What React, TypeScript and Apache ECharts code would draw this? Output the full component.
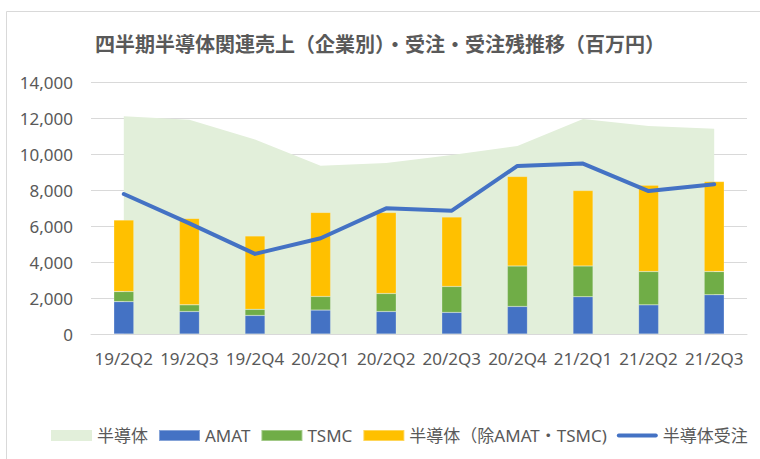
import React, { useEffect, useRef } from "react";
import * as echarts from "echarts";

const categories = ["19/2Q2", "19/2Q3", "19/2Q4", "20/2Q1", "20/2Q2", "20/2Q3", "20/2Q4", "21/2Q1", "21/2Q2", "21/2Q3"];
const semiTotal = [12100, 11900, 10800, 9350, 9500, 9950, 10450, 11950, 11550, 11400];
const amat = [1800, 1250, 1030, 1330, 1250, 1200, 1530, 2070, 1620, 2180];
const tsmc = [560, 370, 340, 755, 1000, 1440, 2250, 1710, 1850, 1290];
const others = [3970, 4800, 4080, 4670, 4500, 3860, 4970, 4190, 4800, 5000];
const orders = [7780, 6150, 4450, 5320, 6980, 6850, 9340, 9470, 7940, 8320];

const FONT = "'Noto Sans', 'Noto Sans CJK JP', sans-serif";
const GRAY = "#595959";
const LINE_ICON = "path://M2,0h37a2,2 0 0 1 0,4h-37a2,2 0 0 1 0,-4z";

export default function App() {
  const ref = useRef<HTMLDivElement>(null);
  useEffect(() => {
    if (!ref.current) return;
    const chart = echarts.init(ref.current, undefined, { renderer: "svg" });
    chart.setOption({
      animation: false,
      backgroundColor: "#ffffff",
      title: {
        text: "四半期半導体関連売上（企業別）・受注・受注残推移（百万円）",
        left: "center",
        top: 28,
        textStyle: { fontFamily: "'Noto Sans CJK JP', sans-serif", fontSize: 20, fontWeight: "bold", color: GRAY },
      },
      graphic: [
        {
          type: "rect",
          shape: { x: 6.5, y: 11.5, width: 800, height: 500 },
          style: { fill: "none", stroke: "#d9d9d9", lineWidth: 1 },
          silent: true,
        },
      ],
      grid: { left: 91, right: 13, top: 82, bottom: 125 },
      legend: {
        left: 46,
        top: 422,
        itemWidth: 41,
        itemHeight: 11,
        itemGap: 10,
        symbolKeepAspect: true,
        textStyle: { fontFamily: FONT, fontSize: 17, color: GRAY },
        data: [
          { name: "半導体", icon: "rect", itemStyle: { color: "#e2efda" } },
          { name: "AMAT", icon: "rect" },
          { name: "TSMC", icon: "rect" },
          { name: "半導体（除AMAT・TSMC)", icon: "rect" },
          { name: "半導体受注", icon: LINE_ICON },
        ],
      },
      xAxis: {
        type: "category",
        data: categories,
        boundaryGap: true,
        axisLine: { lineStyle: { color: "#d9d9d9", width: 1 } },
        axisTick: { show: false },
        axisLabel: { fontFamily: FONT, fontSize: 17, color: GRAY, margin: 16, interval: 0 },
      },
      yAxis: {
        type: "value",
        min: 0,
        max: 14000,
        interval: 2000,
        axisLine: { show: false },
        axisTick: { show: false },
        splitLine: { lineStyle: { color: "#d9d9d9", width: 1 } },
        axisLabel: {
          fontFamily: FONT,
          fontSize: 17,
          color: GRAY,
          margin: 18,
          formatter: (v: number) => v.toLocaleString("en-US"),
        },
      },
      series: [
        {
          name: "半導体",
          type: "line",
          data: semiTotal,
          symbol: "none",
          lineStyle: { width: 0 },
          itemStyle: { color: "#e2efda" },
          areaStyle: { color: "#e2efda", opacity: 1 },
          z: 1,
        },
        {
          name: "AMAT",
          type: "bar",
          stack: "s",
          data: amat,
          barWidth: 20,
          itemStyle: { color: "#4472c4", borderColor: "rgba(255,255,255,0.35)", borderWidth: 0.5 },
          z: 2,
        },
        {
          name: "TSMC",
          type: "bar",
          stack: "s",
          data: tsmc,
          barWidth: 20,
          itemStyle: { color: "#70ad47", borderColor: "rgba(255,255,255,0.35)", borderWidth: 0.5 },
          z: 2,
        },
        {
          name: "半導体（除AMAT・TSMC)",
          type: "bar",
          stack: "s",
          data: others,
          barWidth: 20,
          itemStyle: { color: "#ffc000", borderColor: "rgba(255,255,255,0.35)", borderWidth: 0.5 },
          z: 2,
        },
        {
          name: "半導体受注",
          type: "line",
          data: orders,
          symbol: "none",
          lineStyle: { color: "#4472c4", width: 4, cap: "round", join: "round" },
          itemStyle: { color: "#4472c4" },
          z: 3,
        },
      ],
    });
    return () => chart.dispose();
  }, []);
  return <div ref={ref} style={{ position: "absolute", left: 0, top: 0, width: 760, height: 459 }} />;
}
